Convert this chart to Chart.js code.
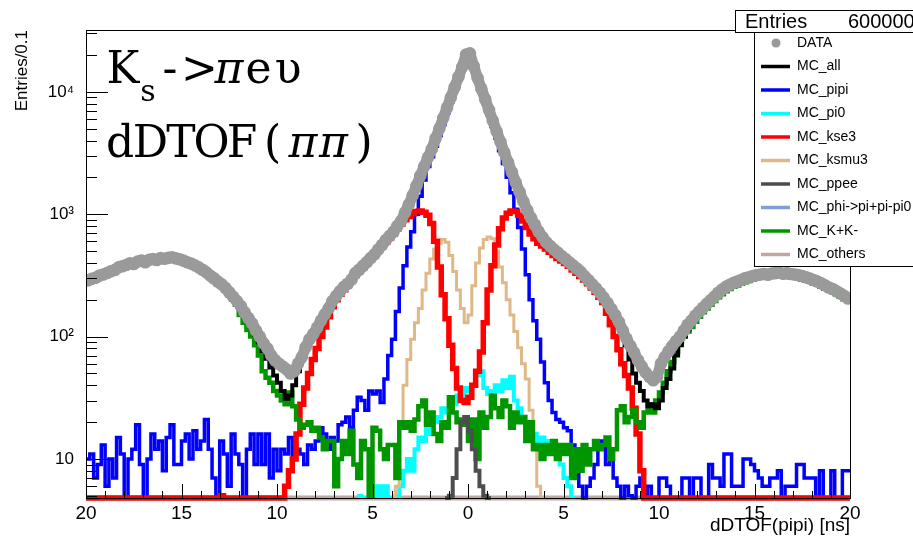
<!DOCTYPE html>
<html>
<head>
<meta charset="utf-8">
<script src="https://cdn.jsdelivr.net/npm/chart.js@4.4.1/dist/chart.umd.min.js"></script>
<style>
  html, body { margin: 0; padding: 0; background: #fff; }
  #wrap { position: relative; width: 913px; height: 537px; overflow: hidden; }
</style>
</head>
<body>
<div id="wrap"><canvas id="dtofChart" width="913" height="537"></canvas></div>
<script>
// binning of the histograms (ns)
const binWidth = 0.2;
const xLow = -20;
const xHigh = 20;
const yLow = 4.8;
const yHigh = 32000;

const xTicks = [-20, -15, -10, -5, 0, 5, 10, 15, 20];
const yTicks = [10, 100, 1000, 10000];
const yTickLabels = ["10", "10²", "10³", "10⁴"];

// DATA, 200 bins from -20 to 20
const dataCounts = [
  288, 296, 303, 315, 322, 331, 342, 350, 368, 376,
  385, 398, 392, 410, 418, 405, 425, 430, 422, 438,
  432, 440, 445, 436, 428, 418, 405, 396, 382, 368,
  352, 335, 315, 300, 282, 268, 250, 230, 212, 195,
  178, 158, 142, 128, 112, 100, 88, 80, 70, 64,
  60, 57, 54, 50, 52, 60, 68, 82, 95, 105,
  118, 135, 152, 170, 195, 215, 235, 255, 270, 292,
  330, 352, 378, 405, 438, 470, 515, 560, 615, 665,
  720, 800, 880, 1030, 1200, 1420, 1700, 2050, 2450, 2900,
  3400, 4150, 5000, 6100, 7400, 9000, 10900, 13200, 16000, 20200,
  20600, 16200, 13000, 10600, 8700, 7100, 5800, 4750, 3900, 3200,
  2650, 2200, 1820, 1520, 1270, 1080, 930, 820, 720, 650,
  590, 550, 515, 485, 455, 430, 405, 382, 360, 338,
  312, 290, 268, 248, 228, 208, 188, 168, 150, 132,
  112, 96, 84, 74, 64, 57, 51, 47, 44, 47,
  60, 68, 76, 84, 92, 100, 112, 125, 135, 148,
  160, 172, 185, 198, 212, 228, 242, 255, 265, 275,
  282, 290, 300, 305, 312, 318, 322, 325, 320, 328,
  330, 332, 326, 330, 325, 322, 318, 312, 305, 298,
  290, 282, 272, 262, 252, 245, 235, 225, 215, 205
];

const mcAll = [
  282, 292, 300, 312, 325, 328, 345, 352, 362, 380,
  388, 392, 400, 405, 420, 412, 420, 428, 430, 432,
  436, 442, 440, 432, 430, 420, 410, 400, 385, 372,
  355, 340, 322, 302, 288, 270, 252, 232, 210, 190,
  170, 150, 135, 120, 104, 90, 76, 66, 56, 48,
  42, 36, 31, 33, 40, 52, 64, 78, 92, 104,
  120, 138, 158, 176, 198, 220, 240, 262, 280, 305,
  340, 360, 385, 420, 450, 480, 520, 570, 620, 670,
  725, 805, 890, 1040, 1210, 1430, 1710, 2060, 2460, 2920,
  3420, 4180, 5050, 6150, 7450, 9050, 10950, 13250, 16050, 19800,
  20000, 16250, 13050, 10650, 8750, 7150, 5850, 4800, 3950, 3250,
  2700, 2230, 1850, 1550, 1300, 1100, 950, 840, 740, 670,
  600, 560, 525, 492, 462, 436, 410, 388, 366, 344,
  318, 296, 274, 254, 234, 214, 192, 172, 152, 130,
  105, 85, 65, 50, 42, 36, 30, 27, 28, 26,
  30, 38, 45, 55, 70, 85, 100, 115, 128, 142,
  155, 168, 182, 196, 210, 225, 240, 252, 262, 272,
  280, 288, 295, 302, 308, 312, 318, 320, 318, 322,
  325, 328, 322, 326, 320, 318, 314, 308, 300, 292,
  286, 278, 268, 258, 250, 240, 232, 222, 212, 202
];

const mcPipi = [
  10, 11, 7, 9, 13, 6, 10, 7, 15, 11,
  0, 10, 12, 19, 9, 0, 10, 16, 12, 14,
  8, 15, 19, 9, 9, 14, 16, 10, 17, 12,
  14, 21, 12, 7, 5, 14, 11, 6, 16, 11,
  9, 0, 12, 16, 9, 16, 9, 16, 7, 12,
  8, 12, 11, 15, 10, 12, 11, 9, 13, 12,
  14, 18, 16, 12, 15, 14, 19, 20, 22, 18,
  25, 32, 30, 25, 36, 34, 36, 29, 45, 70,
  95, 160, 250, 380, 540, 720, 1000, 1400, 1900, 2450,
  2950, 3600, 4400, 5400, 6700, 8200, 10000, 12300, 15000, 18500,
  18800, 15200, 12200, 9800, 8000, 6500, 5200, 4200, 3300, 2600,
  2000, 1500, 1100, 780, 520, 320, 200, 135, 95, 62,
  42, 30, 24, 21, 20, 18, 17, 13, 11, 6,
  0, 6, 7, 9, 12, 14, 9, 12, 7, 6,
  0, 6, 5, 0, 6, 7, 0, 6, 0, 0,
  7, 7, 6, 0, 0, 0, 7, 7, 0, 7,
  7, 0, 0, 9, 7, 7, 6, 11, 11, 6,
  6, 6, 10, 10, 9, 8, 7, 6, 6, 7,
  7, 8, 0, 6, 6, 6, 9, 9, 7, 7,
  7, 0, 8, 0, 0, 8, 0, 0, 8, 8
];

const mcKse3 = [
  0, 0, 0, 0, 0, 0, 0, 0, 0, 0,
  0, 0, 0, 0, 0, 0, 0, 0, 0, 0,
  0, 0, 0, 0, 0, 0, 0, 0, 0, 0,
  0, 0, 0, 0, 0, 5, 0, 0, 0, 0,
  0, 0, 0, 0, 0, 0, 0, 0, 0, 0,
  0, 0, 6, 8, 10, 16, 28, 38, 50, 65,
  80, 100, 120, 145, 175, 200, 222, 242, 262, 285,
  315, 340, 365, 395, 425, 460, 500, 545, 590, 640,
  690, 760, 830, 900, 960, 1010, 1050, 1060, 1040, 980,
  840, 600, 370, 220, 140, 85, 55, 38, 30, 29,
  32, 40, 52, 75, 130, 240, 380, 560, 760, 930,
  1020, 1060, 1050, 980, 880, 780, 690, 630, 580, 550,
  520, 490, 460, 435, 415, 395, 375, 350, 330, 310,
  290, 270, 250, 230, 210, 190, 155, 125, 100, 78,
  60, 48, 38, 26, 16, 8, 0, 0, 0, 0,
  0, 0, 0, 0, 0, 0, 0, 0, 0, 0,
  0, 0, 0, 0, 0, 0, 0, 0, 0, 0,
  0, 0, 0, 0, 0, 0, 0, 0, 0, 0,
  0, 0, 0, 0, 0, 0, 0, 0, 0, 0,
  0, 0, 0, 0, 0, 0, 0, 0, 0, 0
];

const mcKK = [
  275, 285, 292, 305, 312, 322, 330, 340, 355, 365,
  372, 382, 385, 395, 400, 398, 410, 412, 415, 420,
  422, 425, 428, 420, 412, 402, 392, 380, 368, 352,
  338, 320, 302, 285, 268, 255, 238, 218, 200, 182,
  150, 130, 113, 100, 85, 70, 52, 46, 42, 36,
  33, 30, 28, 35, 27, 21, 18, 19, 20, 17,
  18, 15, 12, 14, 14, 6, 10, 14, 11, 17,
  9, 7, 14, 12, 5, 18, 17, 12, 10, 13,
  13, 7, 20, 18, 20, 17, 21, 27, 30, 19,
  24, 16, 14, 20, 18, 32, 24, 20, 21, 19,
  14, 21, 10, 24, 18, 22, 33, 26, 22, 30,
  27, 18, 24, 20, 22, 14, 20, 12, 13, 10,
  13, 11, 14, 10, 13, 11, 13, 7, 12, 8,
  13, 9, 12, 14, 12, 13, 15, 10, 12, 25,
  27, 20, 22, 25, 20, 18, 24, 28, 24, 30,
  35, 42, 52, 62, 75, 90, 100, 110, 120, 132,
  145, 158, 170, 182, 195, 210, 222, 235, 245, 255,
  262, 270, 278, 285, 292, 298, 302, 305, 305, 308,
  310, 312, 308, 310, 305, 302, 298, 292, 286, 280,
  272, 265, 255, 246, 238, 230, 222, 212, 202, 195
];

// partial-range histograms (first bin low edge given)
const ksmu3Start = -4.0;
const mcKsmu3 = [
  0, 6, 18, 40, 65, 95, 130, 170, 240, 330,
  430, 520, 580, 620, 590, 460, 340, 240, 170, 130,
  150, 260, 400, 530, 620, 650, 630, 500, 370, 275,
  200, 150, 110, 81, 60, 45, 25, 12, 6, 0
];

const pi0Start = -5.8;
const mcPi0 = [
  5, 0, 0, 0, 0, 6, 5, 6, 0, 0,
  5, 6, 8, 10, 8, 12, 15, 14, 18, 16,
  20, 22, 26, 24, 30, 28, 33, 32, 38, 36,
  40, 48, 52, 38, 34, 36, 40, 36, 44, 38,
  47, 30, 26, 22, 20, 19, 16, 14, 15, 13,
  14, 12, 11, 9, 7, 6, 0
];

const ppeeStart = -1.2;
const mcPpee = [0, 5, 7, 12, 20, 22, 17, 12, 8, 6, 5, 0];

// empty over the whole range
const mcPhi = [0];
const mcOthers = [0];

const seriesStyle = {
  "DATA":              { color: "#9a9a9a" },
  "MC_all":            { color: "#000000", width: 4 },
  "MC_pipi":           { color: "#0000ff", width: 3.5 },
  "MC_pi0":            { color: "#00ffff", width: 4 },
  "MC_kse3":           { color: "#ff0000", width: 5.5 },
  "MC_ksmu3":          { color: "#deb887", width: 3 },
  "MC_ppee":           { color: "#4d4d4d", width: 4 },
  "MC_phi->pi+pi-pi0": { color: "#7f9fd6", width: 3 },
  "MC_K+K-":           { color: "#009600", width: 4.5 },
  "MC_others":         { color: "#bfa89f", width: 5 }
};

function histPoints(values, start, width) {
  const pts = values.map((v, i) => ({ x: start + i * width, y: Math.max(v, yLow) }));
  pts.push({ x: start + values.length * width, y: Math.max(values[values.length - 1], yLow) });
  return pts;
}

function histDataset(label, values, start, width, order) {
  const st = seriesStyle[label];
  return {
    label: label,
    data: histPoints(values, start, width),
    borderColor: st.color,
    backgroundColor: st.color,
    borderWidth: st.width,
    stepped: true,
    pointRadius: 0,
    fill: false,
    borderJoinStyle: "miter",
    clip: { left: 0, top: 0, right: 0, bottom: 6 },
    order: order
  };
}

const datasets = [
  {
    // dense markers: drawn as a thick round-capped band plus dots
    label: "DATA",
    data: dataCounts.map((v, i) => ({ x: xLow + (i + 0.5) * binWidth, y: v })),
    showLine: true,
    borderColor: seriesStyle["DATA"].color,
    borderWidth: 11,
    borderCapStyle: "round",
    borderJoinStyle: "round",
    pointRadius: 6.3,
    pointBackgroundColor: seriesStyle["DATA"].color,
    pointBorderWidth: 0,
    backgroundColor: seriesStyle["DATA"].color,
    fill: false,
    order: 0
  },
  histDataset("MC_all", mcAll, xLow, binWidth, 1),
  histDataset("MC_ppee", mcPpee, ppeeStart, binWidth, 2),
  histDataset("MC_K+K-", mcKK, xLow, binWidth, 3),
  histDataset("MC_kse3", mcKse3, xLow, binWidth, 4),
  histDataset("MC_pipi", mcPipi, xLow, binWidth, 5),
  histDataset("MC_ksmu3", mcKsmu3, ksmu3Start, binWidth, 6),
  histDataset("MC_pi0", mcPi0, pi0Start, binWidth, 7),
  histDataset("MC_others", mcOthers, xLow, xHigh - xLow, 8),
  histDataset("MC_phi->pi+pi-pi0", mcPhi, xLow, xHigh - xLow, 9)
];

const legendOrder = ["DATA", "MC_all", "MC_pipi", "MC_pi0", "MC_kse3", "MC_ksmu3",
  "MC_ppee", "MC_phi->pi+pi-pi0", "MC_K+K-", "MC_others"];

// inward ticks and frame, ROOT style
const rootFrame = {
  id: "rootFrame",
  afterDatasetsDraw(chart) {
    const { ctx, chartArea: a, scales } = chart;
    ctx.save();
    ctx.strokeStyle = "#000";
    ctx.lineWidth = 1;
    ctx.strokeRect(a.left + 0.5, a.top + 0.5, a.right - a.left, a.bottom - a.top);
    ctx.beginPath();
    for (let v = xLow; v <= xHigh; v += 1) {
      const px = Math.round(scales.x.getPixelForValue(v)) + 0.5;
      const len = v % 5 === 0 ? 14 : 7;
      ctx.moveTo(px, a.bottom);
      ctx.lineTo(px, a.bottom - len);
    }
    for (let d = 1; d <= 10000; d *= 10) {
      for (let m = 1; m <= 9; m++) {
        const v = d * m;
        if (v < yLow || v > yHigh) continue;
        const py = Math.round(scales.y.getPixelForValue(v)) + 0.5;
        ctx.moveTo(a.left, py);
        ctx.lineTo(a.left + (m === 1 ? 22 : 11), py);
      }
    }
    ctx.stroke();
    ctx.restore();
  },
  afterDraw(chart) {
    const ctx = chart.ctx;
    ctx.save();
    // big annotation, monospaced cells
    ctx.fillStyle = "#000";
    ctx.textAlign = "center";
    ctx.textBaseline = "alphabetic";
    const up = "44px 'DejaVu Serif'";
    const it = "italic 44px 'DejaVu Serif'";
    ctx.font = up;
    ctx.fillText("K", 123, 83);
    "->πeυ".split("").forEach((c, i) => {
      ctx.font = c === "π" ? it : up;
      ctx.fillText(c, 170 + 29.5 * i, 83);
    });
    "dDTOF(ππ)".split("").forEach((c, i) => {
      ctx.font = c === "π" ? it : up;
      ctx.fillText(c, 120 + 30.5 * i, 157);
    });
    ctx.font = "30px 'DejaVu Serif'";
    ctx.fillText("s", 148, 101);

    // stats box
    ctx.fillStyle = "#fff";
    ctx.strokeStyle = "#000";
    ctx.lineWidth = 1;
    ctx.fillRect(735.5, 10.5, 200, 22);
    ctx.strokeRect(735.5, 10.5, 200, 22);
    ctx.fillStyle = "#000";
    ctx.textAlign = "left";
    ctx.textBaseline = "middle";
    ctx.font = "20px 'Liberation Sans'";
    ctx.fillText("Entries", 745, 22);
    ctx.fillText("600000", 848, 22);

    // legend box
    ctx.fillStyle = "#fff";
    ctx.fillRect(754.5, 32.5, 200, 234);
    ctx.strokeRect(754.5, 32.5, 200, 234);
    ctx.font = "14px 'Liberation Sans'";
    legendOrder.forEach((name, i) => {
      const yy = 43 + 23.5 * i;
      const st = seriesStyle[name];
      if (name === "DATA") {
        ctx.fillStyle = st.color;
        ctx.beginPath();
        ctx.arc(776, yy, 4.5, 0, Math.PI * 2);
        ctx.fill();
      } else {
        ctx.strokeStyle = st.color;
        ctx.lineWidth = 3.5;
        ctx.beginPath();
        ctx.moveTo(761, yy);
        ctx.lineTo(790, yy);
        ctx.stroke();
      }
      ctx.fillStyle = "#000";
      ctx.fillText(name, 797, yy);
    });
    ctx.restore();
  }
};

Chart.defaults.font.family = "'Liberation Sans', Arial, sans-serif";
Chart.defaults.color = "#000";

new Chart(document.getElementById("dtofChart").getContext("2d"), {
  type: "line",
  data: { datasets: datasets },
  options: {
    responsive: false,
    animation: false,
    layout: { padding: { top: 30, right: 63, left: 0, bottom: 0 } },
    plugins: { legend: { display: false }, tooltip: { enabled: false } },
    scales: {
      x: {
        type: "linear",
        min: xLow,
        max: xHigh,
        afterFit(s) { s.height = 39; },
        afterBuildTicks(s) { s.ticks = xTicks.map(v => ({ value: v })); },
        grid: { display: false, drawTicks: false },
        border: { display: false },
        ticks: {
          autoSkip: false,
          maxRotation: 0,
          padding: 4,
          font: { size: 19 },
          callback: v => String(Math.abs(v))
        },
        title: {
          display: true,
          text: "dDTOF(pipi) [ns]",
          align: "end",
          padding: 0,
          font: { size: 19 }
        }
      },
      y: {
        type: "logarithmic",
        min: yLow,
        max: yHigh,
        afterFit(s) { s.width = 86; },
        afterBuildTicks(s) { s.ticks = yTicks.map(v => ({ value: v })); },
        grid: { display: false, drawTicks: false },
        border: { display: false },
        ticks: {
          autoSkip: false,
          padding: 12,
          font: { size: 17 },
          callback: v => yTickLabels[yTicks.indexOf(v)]
        },
        title: {
          display: true,
          text: "Entries/0.1",
          align: "end",
          padding: { top: 12, bottom: 0 },
          font: { size: 17 }
        }
      }
    }
  },
  plugins: [rootFrame]
});
</script>
</body>
</html>
